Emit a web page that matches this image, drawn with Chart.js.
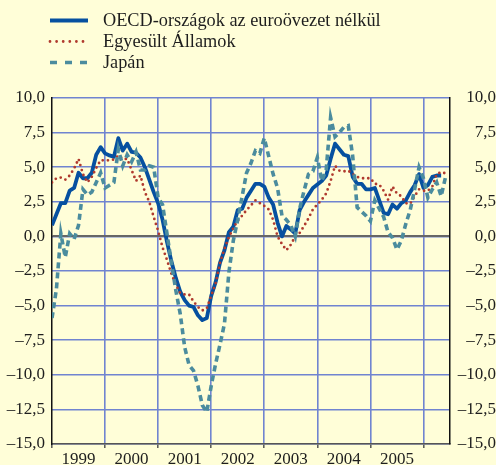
<!DOCTYPE html>
<html>
<head>
<meta charset="utf-8">
<script src="https://cdn.jsdelivr.net/npm/chart.js@4"></script>
<style>
  html, body { margin: 0; padding: 0; background: #fffed8; }
  #wrap { width: 496px; height: 465px; }
</style>
</head>
<body>
<div id="wrap"><canvas id="chart"></canvas></div>
<script>
// --- data (monthly, Jan 1999 = 0) ---
const years = ['1999', '2000', '2001', '2002', '2003', '2004', '2005'];
const seriesNames = ['OECD-országok az euroövezet nélkül', 'Egyesült Államok', 'Japán'];

const oecd = [
  0.8, 1.6, 2.4, 2.4, 3.3, 3.5, 4.6, 4.2, 4.2, 4.6,
  5.9, 6.45, 6.0, 5.85, 5.75, 7.1, 6.2, 6.7, 6.1, 6.05,
  5.7, 5.0, 4.1, 3.2, 2.4, 1.2, -0.4, -1.8, -3.0, -4.0,
  -4.6, -5.0, -5.1, -5.7, -6.05, -5.9, -4.3, -3.3, -1.9, -1.0,
  0.3, 0.7, 1.9, 2.0, 2.8, 3.3, 3.8, 3.8, 3.6, 2.8,
  2.3, 1.0, 0.0, 0.75, 0.5, 0.2, 1.9, 2.5, 3.0, 3.5,
  3.75, 4.0, 4.4, 5.6, 6.7, 6.3, 5.9, 5.8, 4.3, 3.8,
  3.8, 3.4, 3.4, 3.5, 2.6, 1.7, 1.6, 2.3, 2.0, 2.4,
  2.6, 3.2, 3.7, 4.5, 3.5, 3.7, 4.3, 4.4, 4.4
];

const usa = [
  3.9, 4.2, 4.25, 4.1, 4.4, 4.9, 5.6, 4.5, 3.9, 4.3,
  4.95, 5.5, 5.5, 5.5, 5.55, 5.85, 5.6, 5.6, 4.8, 4.0,
  4.4, 3.2, 2.5, 1.4, 0.4, -0.8, -1.7, -2.7, -3.5, -4.1,
  -4.2, -4.2, -4.7, -5.1, -5.35, -5.2, -4.3, -3.4, -1.9, -0.9,
  -0.05, 0.6, 1.15, 1.5, 1.9, 2.25, 2.6, 2.4, 2.2, 1.95,
  1.2, 0.0, -0.55, -1.0, -0.6, 0.0, 0.25, 0.75, 1.3, 1.95,
  2.3, 2.65, 3.1, 4.0, 5.1, 4.75, 4.7, 4.75, 4.5, 4.3,
  4.2, 4.2, 4.2, 3.8, 3.75, 3.3, 2.65, 3.6, 3.1, 2.9,
  2.4, 2.35, 2.9, 3.4, 3.3, 3.3, 3.6, 4.5, 4.65, 4.55
];

const japan = [
  -5.9, -3.8, 0.2, -1.5, 0.2, -0.2, 0.8, 3.4, 3.0, 3.2,
  3.9, 4.6, 3.5, 3.7, 3.9, 6.3, 5.1, 5.9, 5.4, 6.1,
  4.8, 4.8, 5.1, 5.0, 2.8, 2.3, 0.2, -1.9, -3.9, -5.6,
  -8.0, -9.3, -9.7, -10.8, -12.2, -12.7, -10.8, -9.2, -7.8, -6.3,
  -2.6, -0.3, 1.2, 2.9, 4.6, 5.3, 6.2, 6.0, 7.1, 5.8,
  4.5, 3.5, 1.5, 1.2, 0.8, 0.0, 2.0, 3.3, 4.5, 4.7,
  5.7, 4.0, 4.8, 8.6, 7.2, 7.5, 7.9, 8.0, 5.8, 2.1,
  1.8, 1.5, 1.1, 2.6, 2.0, 1.4, 0.3, -0.1, -0.95, -0.3,
  0.9, 1.9, 3.4, 5.0, 4.2, 2.8, 3.4, 3.9, 2.9, 4.3
];

// --- look ---
const BG = '#fffed8';
const GRID = 'rgb(112,132,208)';
const FONT = "'Liberation Serif', 'Times New Roman', serif";
Chart.defaults.font.family = FONT;
Chart.defaults.font.size = 17;
Chart.defaults.color = '#1e1e1e';

const toPoints = arr => arr.map((v, i) => ({ x: i, y: v }));
const fmt = v => (v < 0 ? '\u2013' : '') + Math.abs(v).toFixed(1).replace('.', ',');

const bgPlugin = {
  id: 'bg',
  beforeDraw(chart) {
    const ctx = chart.ctx;
    ctx.save();
    ctx.fillStyle = BG;
    ctx.fillRect(0, 0, chart.width, chart.height);
    ctx.restore();
  }
};

// legend drawn by hand so it sits top-left, one series per row
const legendPlugin = {
  id: 'hand-legend',
  afterDraw(chart) {
    const ctx = chart.ctx;
    ctx.save();
    chart.data.datasets.forEach((ds, row) => {
      const y = 20.5 + row * 21;
      ctx.beginPath();
      ctx.strokeStyle = ds.borderColor;
      ctx.lineWidth = ds.legendWidth;
      ctx.lineCap = ds.borderCapStyle || 'butt';
      ctx.setLineDash(ds.legendDash);
      ctx.moveTo(50, y);
      ctx.lineTo(88, y);
      ctx.stroke();
      ctx.setLineDash([]);
      ctx.fillStyle = '#1e1e1e';
      ctx.font = '18.3px ' + FONT;
      ctx.textBaseline = 'middle';
      ctx.fillText(seriesNames[row], 103, y + 1);
    });
    ctx.restore();
  }
};

const isYear = v => v % 12 === 0;

new Chart(document.getElementById('chart'), {
  type: 'line',
  data: {
    datasets: [
      {
        label: seriesNames[0], data: toPoints(oecd),
        borderColor: '#0650a0', borderWidth: 3.8, borderJoinStyle: 'round',
        legendWidth: 4, legendDash: [],
        pointRadius: 0, tension: 0, order: 2,
      },
      {
        label: seriesNames[1], data: toPoints(usa),
        borderColor: '#b03a2e', borderWidth: 2.8, borderCapStyle: 'round',
        borderDash: [0, 5.2],
        legendWidth: 2.8, legendDash: [0, 6.6],
        pointRadius: 0, tension: 0, order: 1,
      },
      {
        label: seriesNames[2], data: toPoints(japan),
        borderColor: '#4b8c9e', borderWidth: 3.6, borderCapStyle: 'butt',
        borderDash: [6, 4],
        legendWidth: 3.6, legendDash: [7, 8],
        pointRadius: 0, tension: 0, order: 0,
      },
    ],
  },
  options: {
    responsive: true,
    maintainAspectRatio: false,
    animation: false,
    layout: { padding: { top: 98, left: 0, right: 0, bottom: 0 } },
    plugins: { legend: { display: false }, tooltip: { enabled: false } },
    scales: {
      x: {
        type: 'linear', min: 0, max: 90,
        afterBuildTicks: s => {
          s.ticks = [];
          for (let v = 0; v <= 90; v += 6) s.ticks.push({ value: v });
        },
        afterFit: s => { s.height = 21; },
        grid: {
          color: c => (c.tick && isYear(c.tick.value) && c.tick.value > 0) ? GRID : 'rgba(0,0,0,0)',
          tickColor: c => (c.tick && isYear(c.tick.value)) ? '#555' : 'rgba(0,0,0,0)',
          lineWidth: 1.6,
          tickWidth: 1.5,
          tickLength: 4,
        },
        border: { color: '#555', width: 1.5 },
        ticks: {
          autoSkip: false, maxRotation: 0, padding: 1,
          callback: v => (v % 12 === 6 ? (years[(v - 6) / 12] || '') : ''),
        },
      },
      y: {
        position: 'left', min: -15, max: 10,
        ticks: { stepSize: 2.5, padding: 7, callback: fmt },
        afterFit: s => { s.width = 52; },
        grid: {
          z: 0,
          color: c => (c.tick && c.tick.value === 0) ? '#666' : 'rgba(0,0,0,0)',
          lineWidth: 2,
          drawTicks: false,
        },
        border: { color: '#111', width: 1.5 },
      },
      y2: {
        position: 'right', min: -15, max: 10,
        ticks: { stepSize: 2.5, padding: 6, crossAlign: 'far', callback: fmt },
        afterFit: s => { s.width = 46; },
        grid: { drawOnChartArea: true, drawTicks: false, color: GRID, lineWidth: 1.6 },
        border: { color: '#111', width: 1.5 },
      },
    },
  },
  plugins: [bgPlugin, legendPlugin],
});
</script>
</body>
</html>
